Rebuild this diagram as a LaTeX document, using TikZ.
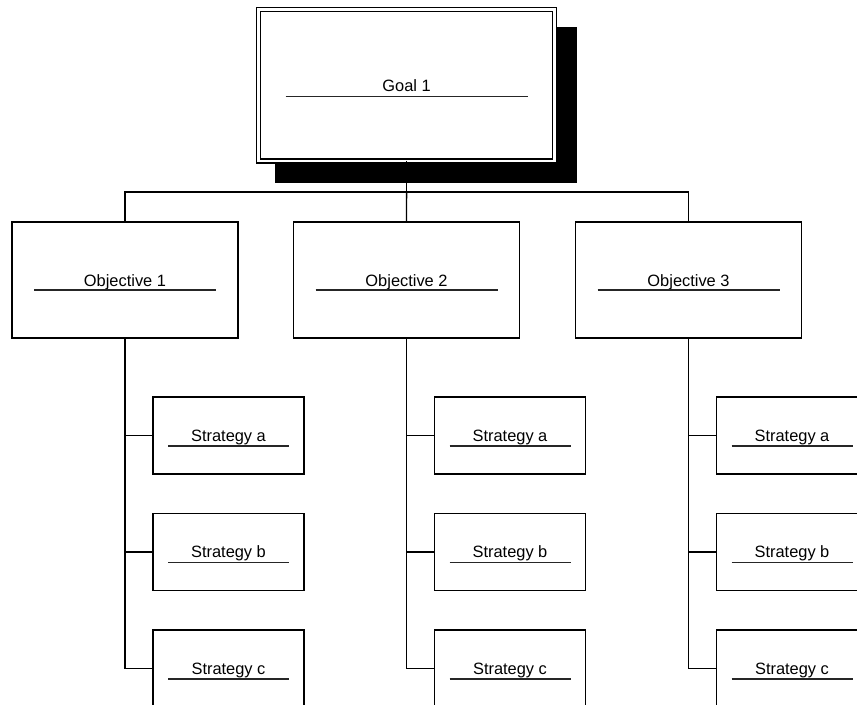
\documentclass[tikz,border=0pt]{standalone}
\usepackage{fontspec}
\setmainfont{Liberation Sans}
\usetikzlibrary{calc}
\begin{document}
\begin{tikzpicture}[x=0.75pt,y=-0.75pt,
  box/.style={draw=black,line width=1pt,fill=white,rectangle,inner sep=0pt,outer sep=0pt},
  goalbox/.style={draw=black,double=white,double distance=2pt,line width=1pt,fill=white,rectangle,inner sep=0pt,outer sep=0pt,minimum width=222.2pt,minimum height=113.6pt},
  shadowbox/.style={fill=black,rectangle,inner sep=0pt,outer sep=0pt,minimum width=226.5pt,minimum height=117pt},
  objbox/.style={box,minimum width=169.5pt,minimum height=87pt},
  stratbox/.style={box,minimum width=113.25pt,minimum height=57.75pt},
  lbl/.style={font=\fontsize{12.3}{14}\selectfont,anchor=base,inner sep=0pt},
  uline/.style={draw=black!85,line width=0.9pt},
  conn/.style={draw=black,line width=1pt}]
\useasboundingbox (0,0) rectangle (857,704);
\clip (0,0) rectangle (857,704);

% goal
\node[shadowbox] (goalshadow) at (425.5,105) {};
\node[goalbox] (goal) at (406.6,85.2) {};
\node[lbl] (goaltext) at ($(goal.center)+(0,6)$) {Goal 1};
\draw[uline] ($(goal.center)+(-121,11)$) -- ++(242,0);

\coordinate (bus) at (406.6,192);

% objectives and strategies
\foreach \i/\x in {1/125,2/406.5,3/688.5}{
  \node[objbox] (o\i) at (\x,280) {};
  \node[lbl] (ot\i) at ($(o\i.center)+(0,6)$) {Objective \i};
  \draw[uline] ($(o\i.center)+(-91,10)$) -- ++(182,0);
  \foreach \s/\y in {a/435.5,b/552,c/668.5}{
    \node[stratbox] (s\i\s) at (\x+103.5,\y) {};
    \node[lbl] (st\i\s) at ($(s\i\s.center)+(0,5.5)$) {Strategy \s};
    \draw[uline] ($(s\i\s.center)+(-60.5,10.5)$) -- ++(121,0);
  }
  \draw[conn] (s\i c.west) -| (o\i.south);
  \draw[conn] (s\i a.west) -- (s\i a.west -| o\i.south);
  \draw[conn] (s\i b.west) -- (s\i b.west -| o\i.south);
}

% top connectors
\draw[conn] (goal.south) -- (bus);
\draw[conn] (o1.north) |- (bus) -| (o3.north);
\draw[conn] (bus) -- (o2.north);
\end{tikzpicture}
\end{document}
